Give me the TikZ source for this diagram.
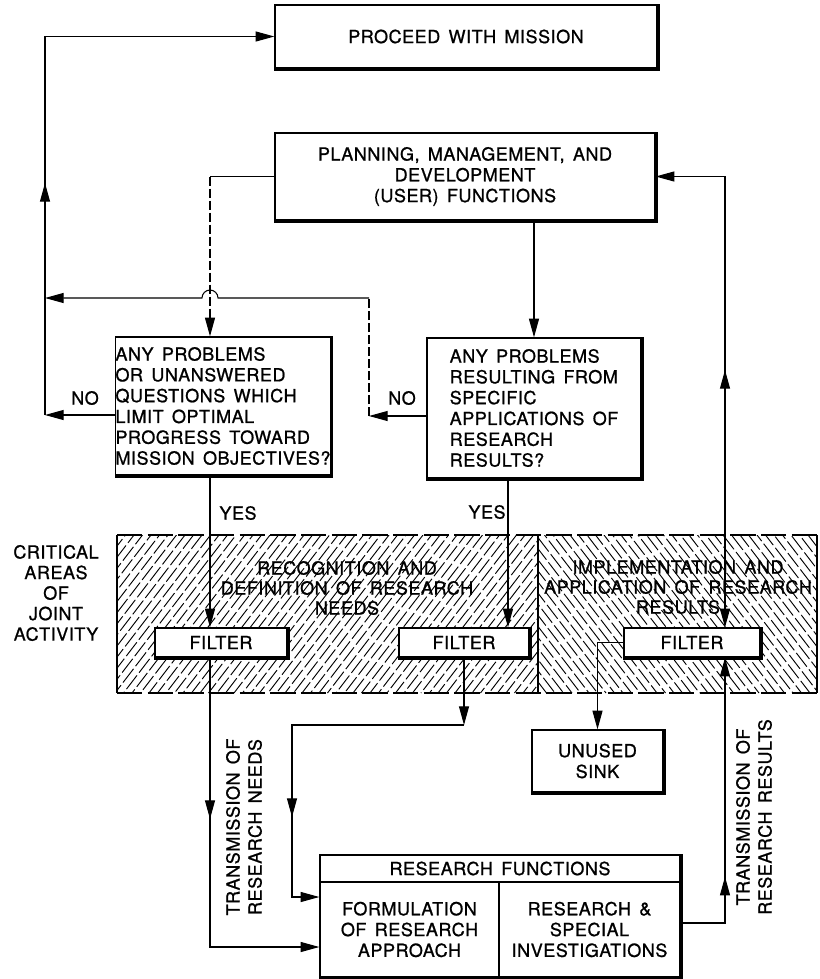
\documentclass[tikz,border=0pt]{standalone}
\usepackage{fontspec}
\setmainfont[LetterSpace=3,WordSpace=1.5,FakeBold=1]{TeX Gyre Heros}
\usetikzlibrary{arrows.meta,decorations.markings}
\pgfdeclarelayer{bg}
\pgfsetlayers{bg,main}
\begin{document}
\begin{tikzpicture}[x=0.75pt,y=-0.75pt,
  lbl/.style={font=\fontsize{13.5}{15.6}\selectfont, inner sep=0pt},
  box/.style={draw, line width=1pt, fill=white, lbl, align=center},
  wh/.style 2 args={minimum width=#1*0.75pt, minimum height=#2*0.75pt},
  conn/.style={line width=0.8pt},
  arr/.style={conn,-{Triangle[length=14pt,width=7.5pt]}},
  arrboth/.style={conn,{Triangle[length=14pt,width=7.5pt]}-{Triangle[length=14pt,width=7.5pt]}},
  dashv/.style={conn,dash pattern=on 7pt off 2pt},
  midarr/.style={postaction={decorate},decoration={markings,mark=at position #1 with {\arrow{Triangle[length=14pt,width=7.5pt]}}}},
  hatch/.style={line width=0.7pt, dash pattern=on 13pt off 2.5pt},
  shd/.style={line width=2pt}
]
\useasboundingbox (0,0) rectangle (819,979);
\pgfmathsetseed{7}

% ---------- boxes ----------
\node[box, wh={382}{63}] (proceed) at (466,36.5) {PROCEED WITH MISSION};
\node[box, wh={380}{87}] (plan) at (465,176.5) {PLANNING, MANAGEMENT, AND\\DEVELOPMENT\\(USER) FUNCTIONS};
\node[box, wh={210}{138}, align=left] (q1) at (223,406) {ANY PROBLEMS\\OR UNANSWERED\\QUESTIONS WHICH\\LIMIT OPTIMAL\\PROGRESS TOWARD\\MISSION OBJECTIVES?};
\node[box, wh={214}{140}, align=left] (q2) at (534,408) {ANY PROBLEMS\\RESULTING FROM\\SPECIFIC\\APPLICATIONS OF\\RESEARCH\\RESULTS?};
\node[box, wh={132}{29}] (f1) at (221,642.5) {FILTER};
\node[box, wh={130}{29}] (f2) at (464,642.5) {FILTER};
\node[box, wh={136}{29}] (f3) at (692,642.5) {FILTER};
\node[box, wh={131}{62}] (sink) at (597.5,761) {UNUSED\\SINK};
\node[box, wh={360}{27}] (rh) at (500,868.5) {RESEARCH FUNCTIONS};
\node[box, wh={179}{95}] (rl) at (409.5,929.5) {FORMULATION\\OF RESEARCH\\APPROACH};
\node[box, wh={181}{95}] (rr) at (589.5,929.5) {RESEARCH \&\\SPECIAL\\INVESTIGATIONS};

\foreach \n in {proceed,plan,q1,q2,f1,f2,f3,sink}
  \draw[shd] ([xshift=0.6pt]\n.north east) -- ([xshift=0.6pt,yshift=-0.6pt]\n.south east) -- ([yshift=-0.6pt]\n.south west);
\draw[shd] ([xshift=0.6pt]rh.north east) -- ([xshift=0.6pt,yshift=-0.6pt]rr.south east) -- ([yshift=-0.6pt]rl.south west);

% ---------- labels ----------
\node[lbl] (no1) at (85,398) {NO};
\node[lbl] (no2) at (402,398) {NO};
\node[lbl] (yes1) at (238,513) {YES};
\node[lbl] (yes2) at (487,512) {YES};
\node[lbl, align=center, font=\fontsize{13.5}{15.4}\selectfont] (crit) at (56,593) {CRITICAL\\AREAS\\OF\\JOINT\\ACTIVITY};
\node[lbl, align=center, font=\fontsize{13.5}{15}\selectfont] (recog) at (347,588) {RECOGNITION AND\\DEFINITION OF RESEARCH\\NEEDS};
\node[lbl, align=center, font=\fontsize{13.5}{15}\selectfont] (impl) at (678,587) {IMPLEMENTATION AND\\APPLICATION OF RESEARCH\\RESULTS};
\node[lbl, align=center, rotate=90, font=\fontsize{13.5}{16.5}\selectfont] (tn) at (244,827) {TRANSMISSION OF\\RESEARCH NEEDS};
\node[lbl, align=center, rotate=90, font=\fontsize{13.5}{16.5}\selectfont] (tr) at (754,817) {TRANSMISSION OF\\RESEARCH RESULTS};

% ---------- hatched band ----------
\begin{pgfonlayer}{bg}
  \begin{scope}
    \clip (117,535) rectangle (538,693);
    \foreach \i in {0,...,66}
      \draw[hatch, dash phase={rnd*15pt}] ({117-121+\i*8.5},693) -- ++(121,-158);
  \end{scope}
  \begin{scope}
    \clip (538,535) rectangle (817,693);
    \foreach \i in {0,...,48}
      \draw[hatch, dash phase={rnd*15pt}] ({538-121+\i*8.5},535) -- ++(121,158);
  \end{scope}
  \draw[line width=1.8pt] (117,535) -- (117,693);
  \draw[line width=1.8pt] (817,535) -- (817,693);
  \draw[line width=1.8pt, dash pattern=on 19pt off 4pt] (117,535) -- (817,535);
  \draw[line width=1.8pt, dash pattern=on 19pt off 4pt] (117,693) -- (817,693);
  \draw[line width=1.2pt] (538,535) -- (538,693);
\end{pgfonlayer}

% ---------- coordinates ----------
\coordinate (noL) at (45,415);
\coordinate (noR) at (369,416);
\coordinate (cornR) at (369,298);
\coordinate (hop) at (210,298);
\coordinate (hopEnd) at (45,298);
\coordinate (yx) at (210,0);
\coordinate (y2x) at (508,0);
\coordinate (f2c) at (464,725);
\coordinate (j2) at (292,725);
\coordinate (j2b) at (292,897);
\coordinate (j1) at (210,947);
\coordinate (rx) at (725,923);

% ---------- connectors ----------
\draw[arr] (q1.west |- noL) -- (noL);
\draw[arr, midarr=174pt] (noL) -- (noL |- proceed.west) -- (proceed.west);
\draw[arr] (q2.west |- noR) -- (noR);
\draw[dashv] (noR) -- (cornR);
\draw[arr] (cornR) -- ([xshift=6pt]hop) arc[start angle=0,end angle=180,radius=6pt] -- (hopEnd);
\draw[conn] (plan.west) -- (plan.west -| yx);
\draw[dashv, arr] (plan.west -| yx) -- (yx |- q1.north);
\draw[arr] (q2.north |- plan.south) -- (q2.north);
\draw[arr] (yx |- q1.south) -- (yx |- f1.north);
\draw[arr] (y2x |- q2.south) -- (y2x |- f2.north);
\draw[arr] (f2.south) -- (f2c);
\draw[arr, midarr=198pt] (f2c) -- (j2) -- (j2b) -- (rl.west |- j2b);
\draw[arr, midarr=121pt] (yx |- f1.south) -- (j1) -- (rl.west |- j1);
\draw[arr] (f3.west) -- (f3.west -| sink.north) -- (sink.north);
\draw[arr, midarr=68pt] (rr.east |- rx) -- (rx) -- (rx |- f3.south);
\draw[arrboth, midarr=193pt] (rx |- f3.north) -- (rx |- plan.east) -- (plan.east);
\end{tikzpicture}
\end{document}
